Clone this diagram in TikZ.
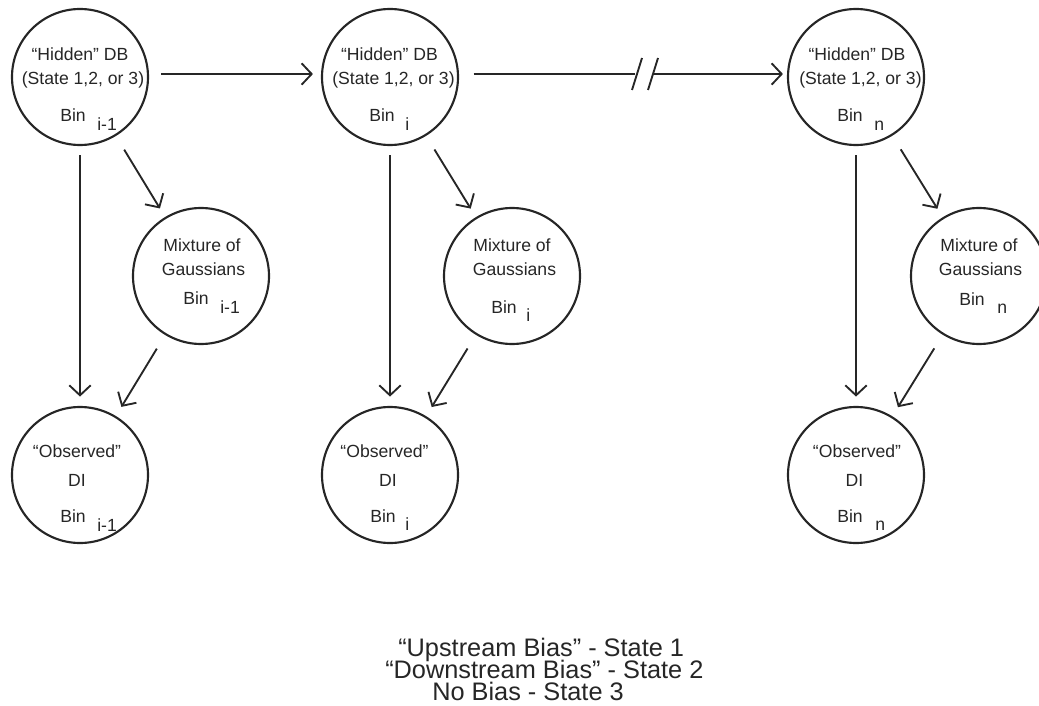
\documentclass[tikz,border=0pt]{standalone}
\usepackage{fontspec}
\setmainfont{Liberation Sans}
\usetikzlibrary{arrows.meta,calc}
\begin{document}
\begin{tikzpicture}[x=0.75pt,y=-0.75pt,
  circ/.style={circle,draw=black!85,line width=1.6pt,minimum size=102pt,inner sep=0pt},
  lbl/.style={anchor=base,inner sep=0pt,text=black!85,font=\fontsize{13.2}{15}\selectfont},
  lblw/.style={lbl,anchor=base west},
  leg/.style={anchor=base west,inner sep=0pt,text height=14pt,text depth=2pt,text=black!85,font=\fontsize{19}{22}\selectfont},
  link/.style={line width=1.4pt,draw=black!85},
  arr/.style={link,-{Straight Barb[length=7.5pt,width=16pt,line width=1.4pt]}}]
\useasboundingbox (0,0) rectangle (1039,706);
% circles
\node[circ] (h1) at (80,77) {};
\node[circ] (h2) at (390,77) {};
\node[circ] (h3) at (856,77) {};
\node[circ] (m1) at (201,276) {};
\node[circ] (m2) at (512,276) {};
\node[circ] (m3) at (979,276) {};
\node[circ] (o1) at (80,475) {};
\node[circ] (o2) at (390,475) {};
\node[circ] (o3) at (856,475) {};
% hidden labels
\node[lbl] (h1a) at (80,61) {``Hidden'' DB};
\node[lbl] (h1b) at (83,85) {(State 1,2, or 3)};
\node[lblw] (h1c) at (60,122) {Bin};
\node[lblw] (h1d) at (97,131) {i-1};
\node[lbl] (h2a) at (389.5,61) {``Hidden'' DB};
\node[lbl] (h2b) at (393.5,85) {(State 1,2, or 3)};
\node[lblw] (h2c) at (369,122) {Bin};
\node[lblw] (h2d) at (405,131) {i};
\node[lbl] (h3a) at (857,61) {``Hidden'' DB};
\node[lbl] (h3b) at (860.5,85) {(State 1,2, or 3)};
\node[lblw] (h3c) at (837,122) {Bin};
\node[lblw] (h3d) at (874,131) {n};
% mixture labels
\node[lbl] (m1a) at (202,252) {Mixture of};
\node[lbl] (m1b) at (203.5,275) {Gaussians};
\node[lblw] (m1c) at (183,304) {Bin};
\node[lblw] (m1d) at (220,313) {i-1};
\node[lbl] (m2a) at (512,252) {Mixture of};
\node[lbl] (m2b) at (514.5,275) {Gaussians};
\node[lblw] (m2c) at (491,313) {Bin};
\node[lblw] (m2d) at (526,321) {i};
\node[lbl] (m3a) at (979,252) {Mixture of};
\node[lbl] (m3b) at (980.5,275) {Gaussians};
\node[lblw] (m3c) at (959,305) {Bin};
\node[lblw] (m3d) at (997,313) {n};
% observed labels
\node[lbl] (o1a) at (77,457) {``Observed''};
\node[lbl] (o1b) at (77,486) {DI};
\node[lblw] (o1c) at (60,522) {Bin};
\node[lblw] (o1d) at (97,531) {i-1};
\node[lbl] (o2a) at (384.5,457) {``Observed''};
\node[lbl] (o2b) at (388,486) {DI};
\node[lblw] (o2c) at (370,522) {Bin};
\node[lblw] (o2d) at (405,530) {i};
\node[lbl] (o3a) at (857,457) {``Observed''};
\node[lbl] (o3b) at (854.5,486) {DI};
\node[lblw] (o3c) at (837,522) {Bin};
\node[lblw] (o3d) at (875,530) {n};
% horizontal connectors
\draw[arr,shorten <=9pt,shorten >=6pt] ([yshift=2.25pt]h1.east) -- ([yshift=2.25pt]h2.west);
\coordinate (b1) at (635,74);
\coordinate (b2) at (653,74);
\draw[link,shorten <=11pt] ([yshift=2.25pt]h2.east) -- (b1);
\draw[arr,shorten >=3pt] (b2) -- ([yshift=2.25pt]h3.west);
\draw[link] ($(b1)+(-3,16)$) -- ($(b1)+(7,-16)$);
\draw[link] ($(b2)+(-5,16)$) -- ($(b2)+(5,-16)$);
% vertical and diagonal connectors
\foreach \c in {1,2,3}{
  \draw[arr,shorten <=7pt,shorten >=7pt] (h\c) -- (o\c);
  \draw[arr,shorten <=12pt,shorten >=7.5pt] (h\c) -- (m\c);
  \draw[arr,shorten <=12pt,shorten >=8pt] (m\c) -- (o\c);
}
% legend
\node[leg] (l1) at (398,656) {``Upstream Bias'' - State 1};
\node[leg] (l2) at (385,678) {``Downstream Bias'' - State 2};
\node[leg] (l3) at (432,700) {No Bias - State 3};
\end{tikzpicture}
\end{document}
